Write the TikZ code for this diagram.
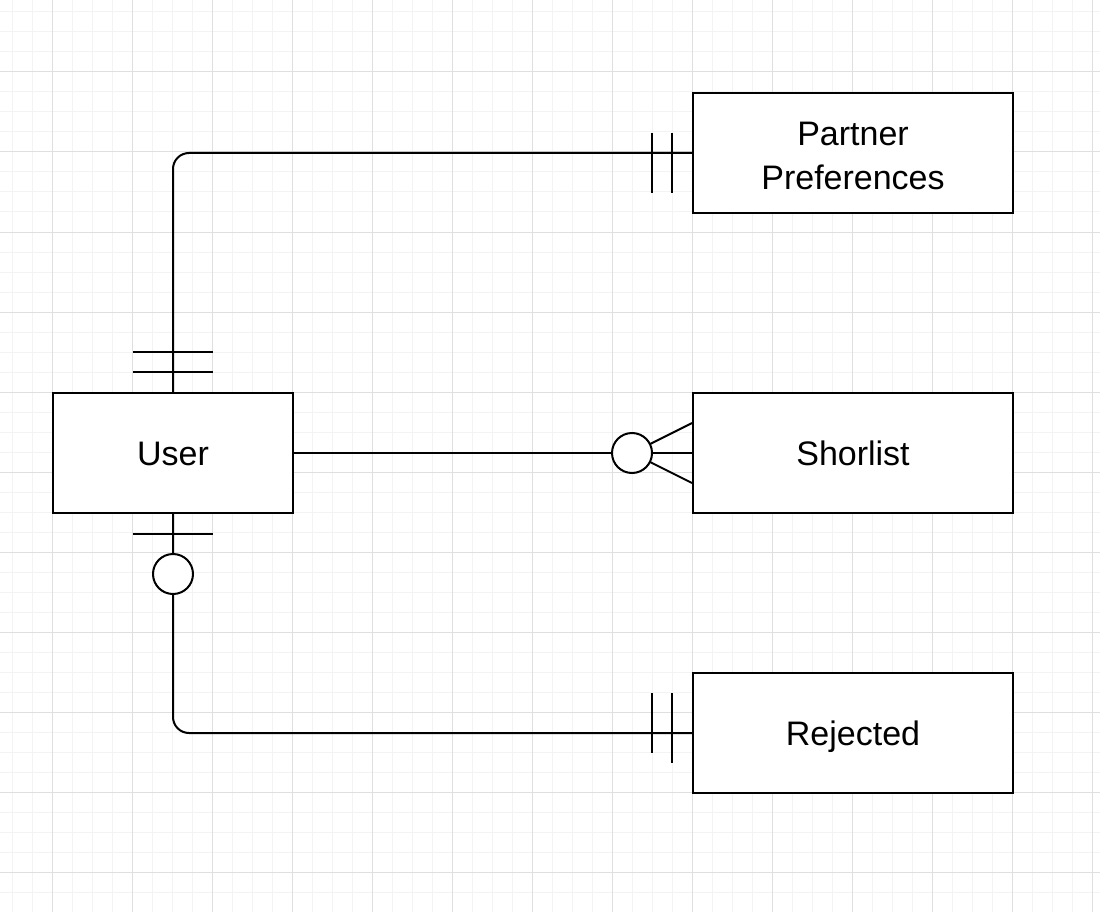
\documentclass[tikz,border=0pt]{standalone}
\usepackage{fontspec}
\setmainfont{Liberation Sans}
\usetikzlibrary{calc}
\definecolor{gridminor}{HTML}{F3F3F3}
\definecolor{gridmajor}{HTML}{DFDFDF}
\tikzset{
  entity/.style={draw=black, line width=2pt, fill=white, minimum width=240pt, minimum height=120pt,
    inner sep=0pt, align=center, font=\fontsize{34}{44}\selectfont},
  oneline/.style={text height=24pt, text depth=0pt},
  wide/.style={minimum width=320pt},
  conn/.style={draw=black, line width=2pt},
  erbar/.style={draw=black, line width=2pt},
  ring/.style={draw=black, line width=2pt, fill=white},
}
\begin{document}
\begin{tikzpicture}[x=1pt,y=-1pt]
\useasboundingbox (0,0) rectangle (1100,912);
\fill[white] (0,0) rectangle (1100,912);
% minor grid
\foreach \i in {12,32,...,1100} \draw[gridminor, line width=1pt] (\i,0) -- (\i,912);
\foreach \j in {12,32,...,912} \draw[gridminor, line width=1pt] (0,\j) -- (1100,\j);
% major grid
\foreach \i in {52,132,...,1100} \draw[gridmajor, line width=1pt] (\i,0) -- (\i,912);
\foreach \j in {72,152,...,912} \draw[gridmajor, line width=1pt] (0,\j) -- (1100,\j);

% entities
\node[entity, oneline] (user) at (173,453) {User};
\node[entity, wide] (pp) at (853,153) {};
\node[align=center, font=\fontsize{34}{44}\selectfont, inner sep=0pt] (pptext) at ($(pp.center)+(0,3)$) {Partner\\Preferences};
\node[entity, wide, oneline] (sl) at (853,453) {Shorlist};
\node[entity, wide, oneline] (rej) at (853,733) {Rejected};

% User -- Partner Preferences
\draw[conn, rounded corners=16pt] (user.north) |- (pp.west);
\draw[erbar] ($(user.north)+(-40,-20)$) -- ++(80,0);
\draw[erbar] ($(user.north)+(-40,-40)$) -- ++(80,0);
\draw[erbar] ($(pp.west)+(-40,-20)$) -- ++(0,60);
\draw[erbar] ($(pp.west)+(-20,-20)$) -- ++(0,60);

% User -- Shorlist
\draw[conn] (user.east) -- (sl.west);
\coordinate (slring) at ($(sl.west)+(-60,0)$);
\draw[erbar] (slring) -- ($(sl.west)+(0,-30)$);
\draw[erbar] (slring) -- ($(sl.west)+(0,30)$);
\draw[ring] (slring) circle[radius=20];

% User -- Rejected
\draw[conn, rounded corners=16pt] (user.south) |- (rej.west);
\draw[erbar] ($(user.south)+(-40,20)$) -- ++(80,0);
\draw[ring] ($(user.south)+(0,60)$) circle[radius=20];
\draw[erbar] ($(rej.west)+(-40,-40)$) -- ++(0,60);
\draw[erbar] ($(rej.west)+(-20,-40)$) -- ++(0,70);
\end{tikzpicture}
\end{document}
